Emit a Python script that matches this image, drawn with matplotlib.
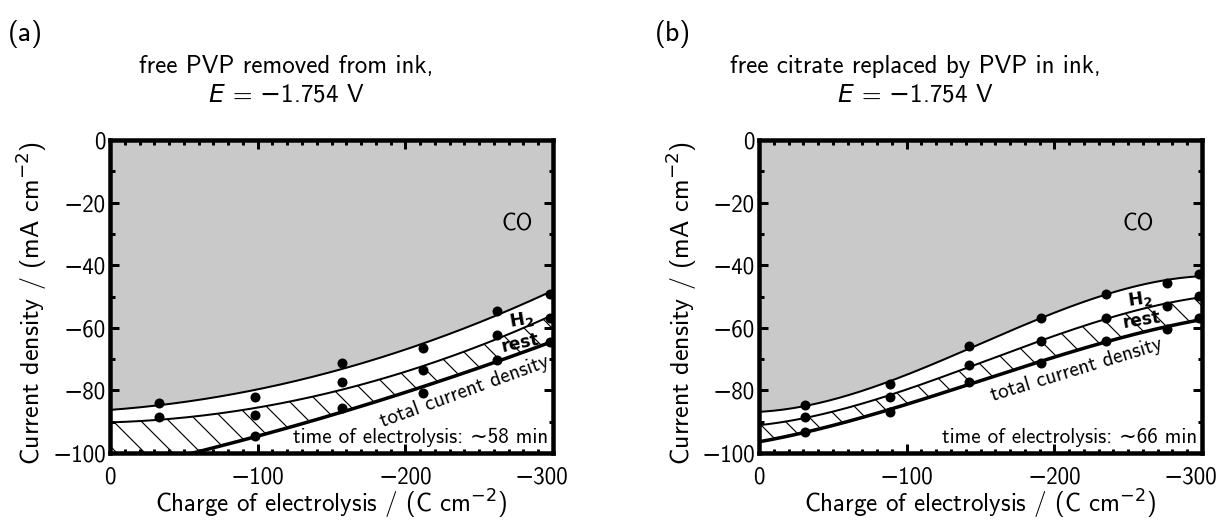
import numpy as np
import matplotlib
matplotlib.use("Agg")
import matplotlib.pyplot as plt
from matplotlib.ticker import MultipleLocator
from matplotlib.transforms import ScaledTranslation

# Charge passed (C cm^-2) and cumulative partial current densities (mA cm^-2)
charge_a = [-33, -98, -157, -212, -262, -298]
co_a = [-84.0, -82.0, -71.1, -66.3, -54.6, -49.3]
co_h2_a = [-88.6, -88.0, -77.4, -73.6, -62.3, -57.0]
total_a = [-103.0, -94.6, -85.5, -80.9, -70.3, -64.4]

charge_b = [-31, -89, -142, -191, -235, -276, -298]
co_b = [-84.7, -78.0, -65.8, -56.8, -49.3, -45.8, -42.8]
co_h2_b = [-88.6, -82.2, -71.8, -64.2, -57.0, -53.0, -49.8]
total_b = [-93.2, -86.8, -77.2, -71.1, -64.1, -60.5, -57.0]

titles = ["free PVP removed from ink,", "free citrate replaced by PVP in ink,"]
potential = "$E$ = $-$1.754 V"
times = ["time of electrolysis: \u223c58 min", "time of electrolysis: \u223c66 min"]
panel_tags = ["(a)", "(b)"]
x_ticks = [0, -100, -200, -300]
fit_degree = [2, 3]

DPI = 84
def pt(px):
    return px * 72.0 / DPI

plt.rcParams["font.family"] = ["cmss10", "DejaVu Sans"]
plt.rcParams["mathtext.fontset"] = "dejavusans"
plt.rcParams["axes.unicode_minus"] = True
plt.rcParams["hatch.linewidth"] = 1.0

fig = plt.figure(figsize=(1224 / DPI, 520 / DPI), dpi=DPI)

W, H = 1224.0, 520.0
axes_px = [(110, 140, 553, 453), (759, 140, 1202, 453)]

panels = [
    (charge_a, co_a, co_h2_a, total_a),
    (charge_b, co_b, co_h2_b, total_b),
]

label_pos = [
    dict(co=(-276, -27), h2=(-279, -57.5, 10), rest=(-278, -65, 12),
         tot=(-240, -80.5, 20), ylab=-0.138, title_x=286),
    dict(co=(-257, -27), h2=(-258, -51, 8), rest=(-259, -57.5, 9),
         tot=(-215, -73.5, 17), ylab=-0.135, title_x=915),
]

qq = np.linspace(0, -300, 400)

for i, ((q, co, coh2, tot), (l, t, r, b), lp) in enumerate(zip(panels, axes_px, label_pos)):
    ax = fig.add_axes([l / W, 1 - b / H, (r - l) / W, (b - t) / H])

    deg = fit_degree[i]
    fit_co = np.polyval(np.polyfit(q, co, deg), qq)
    fit_h2 = np.polyval(np.polyfit(q, coh2, deg), qq)
    fit_tot = np.polyval(np.polyfit(q, tot, deg), qq)

    # CO region (grey), H2 band (white), rest band (hatched)
    ax.fill_between(qq, fit_co, 0, color="#c9c9c9", linewidth=0, zorder=1)
    ax.fill_between(qq, fit_tot, fit_h2, facecolor="white", edgecolor="black",
                    hatch="\\", linewidth=0, zorder=1)
    ax.plot(qq, fit_co, color="black", lw=pt(2), zorder=3)
    ax.plot(qq, fit_h2, color="black", lw=pt(2), zorder=3)
    ax.plot(qq, fit_tot, color="black", lw=pt(3.5), zorder=3)

    for series in (co, coh2, tot):
        ax.plot(q, series, "o", color="black", ms=pt(10), mew=0, zorder=4)

    ax.set_xlim(0, -300)
    ax.set_ylim(-100, 0)
    ax.set_xticks(x_ticks)
    ax.xaxis.set_minor_locator(MultipleLocator(10))
    ax.yaxis.set_major_locator(MultipleLocator(20))
    ax.yaxis.set_minor_locator(MultipleLocator(10))
    ax.tick_params(which="both", direction="in", top=True, right=True,
                   width=pt(3), labelsize=pt(23))
    ax.tick_params(which="major", length=pt(9))
    ax.tick_params(which="minor", length=pt(4.5))
    ax.tick_params(axis="x", which="major", pad=pt(13))
    ax.tick_params(axis="y", which="major", pad=pt(4))
    for s in ax.spines.values():
        s.set_linewidth(pt(4.5))
        s.set_zorder(5)

    # last x tick label sits slightly inside the axis end
    last = ax.xaxis.get_major_ticks()[-1].label1
    last.set_transform(last.get_transform() + ScaledTranslation(-12 / DPI, 0, fig.dpi_scale_trans))

    ax.set_xlabel("Charge of electrolysis / (C cm$^{-2}$)", fontsize=pt(25))
    ax.set_ylabel("Current density / (mA cm$^{-2}$)", fontsize=pt(26))
    ax.xaxis.set_label_coords(0.5, -0.112)
    ax.yaxis.set_label_coords(lp["ylab"], 0.48)

    ax.text(*lp["co"], "CO", fontsize=pt(23), ha="center", va="center", zorder=6)
    ax.text(lp["h2"][0], lp["h2"][1], "$\\mathbf{H_2}$", fontsize=pt(18),
            rotation=lp["h2"][2], ha="center", va="center", zorder=6)
    ax.text(lp["rest"][0], lp["rest"][1], "rest", fontsize=pt(17), fontweight="bold",
            family="DejaVu Sans", rotation=lp["rest"][2], ha="center", va="center", zorder=6)
    ax.text(lp["tot"][0], lp["tot"][1], "total current density", fontsize=pt(21),
            rotation=lp["tot"][2], ha="center", va="center", zorder=6)
    ax.text(-297, -95, times[i], fontsize=pt(21), ha="right", va="center", zorder=6)

    fig.text(lp["title_x"] / W, 1 - 73 / H, titles[i], fontsize=pt(25),
             ha="center", va="baseline")
    fig.text(lp["title_x"] / W, 1 - 102 / H, potential, fontsize=pt(25),
             ha="center", va="baseline")

fig.text(8 / W, 1 - 41 / H, panel_tags[0], fontsize=pt(28), ha="left", va="baseline")
fig.text(655 / W, 1 - 41 / H, panel_tags[1], fontsize=pt(28), ha="left", va="baseline")

fig.savefig("out.png", dpi=DPI, facecolor="white")
